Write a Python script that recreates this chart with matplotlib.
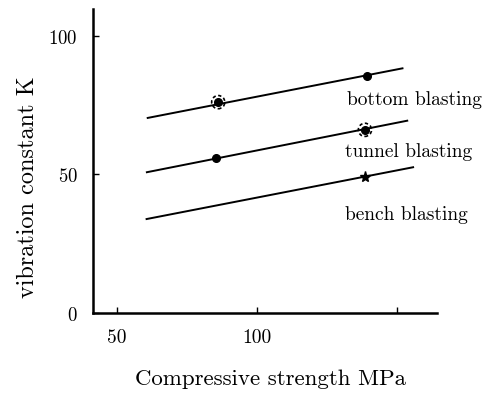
import matplotlib
matplotlib.use('Agg')
import matplotlib.pyplot as plt

plt.rcParams['font.family'] = 'cmr10'
plt.rcParams['mathtext.fontset'] = 'cm'
plt.rcParams['axes.formatter.use_mathtext'] = True

# fitted lines (compressive strength MPa -> vibration constant K)
bottom_x = [61.0, 152.0]
bottom_k = [70.4, 88.3]
tunnel_x = [60.7, 153.7]
tunnel_k = [50.8, 69.4]
bench_x = [60.6, 155.8]
bench_k = [33.9, 52.6]

# measured points
dot_x = [139.2, 86.2, 85.4, 138.6]
dot_k = [85.7, 76.1, 56.0, 66.1]
ring_x = [86.2, 138.6]
ring_k = [76.1, 66.1]
star_x = [138.75]
star_k = [49.1]

labels = ['bottom blasting', 'tunnel blasting', 'bench blasting']
label_x = [132.1, 131.4, 131.4]
label_k = [77.4, 58.6, 35.7]

x_ticks = [50, 100, 150]
x_ticklabels = ['50', '100', '']
y_ticks = [0, 50, 100]

fig = plt.figure(figsize=(4.86, 4.02), dpi=100)
ax = fig.add_axes([0.191, 0.219, 0.708, 0.756])

for xs, ks in [(bottom_x, bottom_k), (tunnel_x, tunnel_k), (bench_x, bench_k)]:
    ax.plot(xs, ks, color='black', linewidth=1.4)

ax.plot(dot_x, dot_k, 'o', color='black', markersize=5.5, linestyle='none')
ax.scatter(ring_x, ring_k, s=90, facecolors='none', edgecolors='black',
           linewidths=1.2, linestyle=(0, (2.0, 1.5)))
ax.plot(star_x, star_k, '*', color='black', markersize=8, linestyle='none')

for txt, lx, lk in zip(labels, label_x, label_k):
    ax.text(lx, lk, txt, fontsize=14, ha='left', va='center')

ax.set_xlim(41.4, 164.3)
ax.set_ylim(0, 109.7)
ax.set_xticks(x_ticks)
ax.set_xticklabels(x_ticklabels)
ax.set_yticks(y_ticks)

for side in ['top', 'right']:
    ax.spines[side].set_visible(False)
for side in ['left', 'bottom']:
    ax.spines[side].set_linewidth(1.8)

ax.tick_params(axis='x', direction='in', length=4, width=1.0, pad=11, labelsize=14)
ax.tick_params(axis='y', direction='in', length=4, width=1.0, pad=11, labelsize=13.5)

ax.set_xlabel('Compressive strength MPa', fontsize=16.5)
ax.xaxis.set_label_coords(0.517, -0.182)
ax.set_ylabel('vibration constant K', fontsize=17.5)
ax.yaxis.set_label_coords(-0.155, 0.418)

fig.savefig('out.png', dpi=100)
